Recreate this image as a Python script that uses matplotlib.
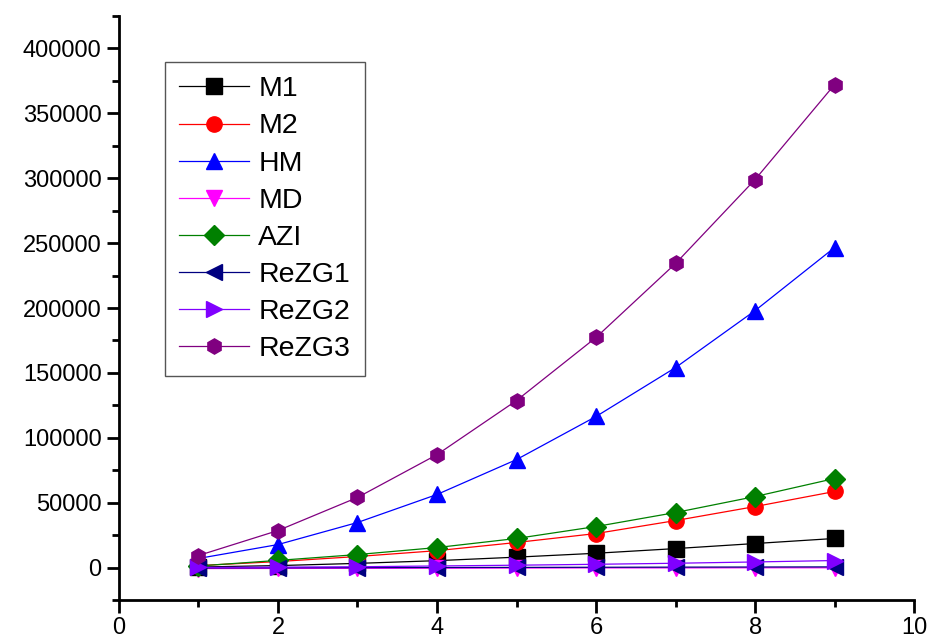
import matplotlib
matplotlib.use("Agg")
import matplotlib.pyplot as plt
from matplotlib.ticker import MultipleLocator

plt.rcParams['font.family'] = ['Liberation Sans', 'DejaVu Sans']

# data
x = [1, 2, 3, 4, 5, 6, 7, 8, 9]
m1 = [400, 1500, 3200, 5300, 8000, 11000, 14600, 18500, 22400]
m2 = [1500, 4600, 8500, 13000, 19300, 26200, 36200, 47000, 58600]
hm = [7000, 17700, 34700, 56300, 83200, 116400, 154100, 198000, 246600]
md = [-800, -700, -600, -500, -400, -300, -300, -200, -200]
azi = [1200, 5500, 10000, 15400, 22400, 31600, 42400, 54700, 68600]
rezg1 = [-300, -200, -100, 0, 100, 200, 300, 400, 500]
rezg2 = [100, 300, 600, 1200, 1800, 2500, 3300, 4300, 5400]
rezg3 = [9250, 28500, 54000, 87000, 128700, 177300, 234300, 299000, 372200]

series = [
    ("M1", m1, "black", "s"),
    ("M2", m2, "red", "o"),
    ("HM", hm, "blue", "^"),
    ("MD", md, "magenta", "v"),
    ("AZI", azi, "#008000", "D"),
    ("ReZG1", rezg1, "#000080", "<"),
    ("ReZG2", rezg2, "#8000FF", ">"),
    ("ReZG3", rezg3, "#800080", "h"),
]

fig = plt.figure(figsize=(9.29, 6.41), dpi=100)
ax = fig.add_axes([0.128, 0.064, 0.856, 0.911])

for name, y, c, m in series:
    ms = 10 if m == "D" else 11
    ax.plot(x, y, color=c, marker=m, markersize=ms, linewidth=0.9, label=name)

ax.set_xlim(0, 10)
ax.set_ylim(-25000, 425000)
ax.xaxis.set_major_locator(MultipleLocator(2))
ax.xaxis.set_minor_locator(MultipleLocator(1))
ax.yaxis.set_major_locator(MultipleLocator(50000))
ax.yaxis.set_minor_locator(MultipleLocator(25000))

for side in ["top", "right"]:
    ax.spines[side].set_visible(False)
for side in ["left", "bottom"]:
    ax.spines[side].set_linewidth(2)

ax.tick_params(which="major", direction="out", length=9, width=2, labelsize=17)
ax.tick_params(which="minor", direction="out", length=5, width=2)

leg = ax.legend(loc="upper left", bbox_to_anchor=(0.058, 0.921), borderaxespad=0,
                fontsize=20.5, handlelength=2.45, labelspacing=0.39, borderpad=0.5,
                handletextpad=0.33, fancybox=False, framealpha=1)
leg.get_frame().set_edgecolor("#555555")
leg.get_frame().set_linewidth(1)

fig.savefig("out.png", dpi=100)
